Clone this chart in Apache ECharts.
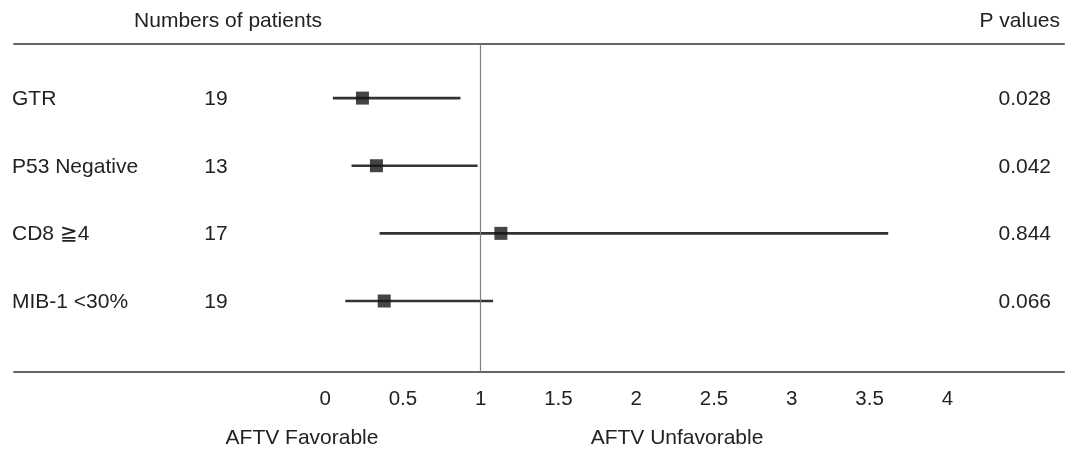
<!DOCTYPE html>
<html><head><meta charset="utf-8">
<script src="https://cdn.jsdelivr.net/npm/echarts@6/dist/echarts.min.js"></script>
<style>html,body{margin:0;padding:0;background:#fff}#c{width:1067px;height:457px}</style>
</head><body><div id="c"></div>
<script>
const categories = ['GTR', 'P53 Negative', 'CD8 \u22674', 'MIB-1 <30%'];
const patients = [19, 13, 17, 19];
const hazard = [0.24, 0.33, 1.13, 0.38];
const lower = [0.05, 0.17, 0.35, 0.13];
const upper = [0.87, 0.98, 3.62, 1.08];
const pValues = ['0.028', '0.042', '0.844', '0.066'];
const tickLabels = ['0', '0.5', '1', '1.5', '2', '2.5', '3', '3.5', '4'];

const FONT = '"Liberation Sans", Arial, sans-serif';
const FS = 21;
const TXT = '#222';
const F = FS + 'px ' + FONT;

const rows = categories.map((c, i) => i + 1);
const whiskerData = categories.map((c, i) => [lower[i], upper[i], rows[i]]);
const pointData = categories.map((c, i) => [hazard[i], rows[i]]);
const textData = categories.map((c, i) => [0, rows[i], i]);

const chart = echarts.init(document.getElementById('c'), null, {renderer: 'canvas'});
chart.setOption({
  animation: false,
  backgroundColor: '#fff',
  grid: {left: 14, right: 0, top: 44, bottom: 85},
  xAxis: [{
    type: 'value', min: -2, max: 4.75, interval: 0.5, position: 'bottom',
    axisLine: {show: true, lineStyle: {color: '#666', width: 2}},
    axisTick: {show: false}, splitLine: {show: false},
    axisLabel: {
      margin: 17, color: TXT, fontFamily: FONT, fontSize: 20.5,
      showMinLabel: true, showMaxLabel: true,
      formatter: v => {
        const s = String(+v.toFixed(2));
        return tickLabels.indexOf(s) >= 0 ? s : '';
      }
    }
  }, {
    type: 'value', min: -2, max: 4.75, interval: 0.5, position: 'top',
    axisLine: {show: true, onZero: false, lineStyle: {color: '#666', width: 2}},
    axisTick: {show: false}, axisLabel: {show: false}, splitLine: {show: false}
  }],
  yAxis: {type: 'value', inverse: true, min: 0.2, max: 5.05, show: false},
  graphic: [
    {type: 'text', x: 228, y: 21, style: {text: 'Numbers of patients', font: F, fill: TXT, textAlign: 'center', textVerticalAlign: 'middle'}},
    {type: 'text', x: 1060, y: 21, style: {text: 'P values', font: F, fill: TXT, textAlign: 'right', textVerticalAlign: 'middle'}},
    {type: 'text', x: 302, y: 438, style: {text: 'AFTV Favorable', font: F, fill: TXT, textAlign: 'center', textVerticalAlign: 'middle'}},
    {type: 'text', x: 677, y: 438, style: {text: 'AFTV Unfavorable', font: F, fill: TXT, textAlign: 'center', textVerticalAlign: 'middle'}}
  ],
  series: [
    {
      type: 'line', data: [], xAxisIndex: 0,
      markLine: {
        silent: true, symbol: 'none', label: {show: false},
        lineStyle: {color: '#808080', width: 1.2, type: 'solid'},
        data: [{xAxis: 1}]
      }
    },
    {
      type: 'custom', xAxisIndex: 0, data: whiskerData,
      renderItem: (params, api) => {
        const a = api.coord([api.value(0), api.value(2)]);
        const b = api.coord([api.value(1), api.value(2)]);
        return {type: 'line', shape: {x1: a[0], y1: a[1], x2: b[0], y2: b[1]},
          style: {stroke: '#333', lineWidth: 2.6}};
      }
    },
    {
      type: 'scatter', xAxisIndex: 0, data: pointData, symbol: 'rect', symbolSize: 13,
      itemStyle: {color: '#161616'}, z: 5
    },
    {
      type: 'custom', xAxisIndex: 0, data: textData,
      renderItem: (params, api) => {
        const i = api.value(2);
        const y = api.coord([0, api.value(1)])[1] + 1;
        return {type: 'group', children: [
          {type: 'text', style: {x: 12, y: y, text: categories[i], font: F, fill: TXT, textAlign: 'left', textVerticalAlign: 'middle'}},
          {type: 'text', style: {x: 216, y: y, text: String(patients[i]), font: F, fill: TXT, textAlign: 'center', textVerticalAlign: 'middle'}},
          {type: 'text', style: {x: 1051, y: y, text: pValues[i], font: F, fill: TXT, textAlign: 'right', textVerticalAlign: 'middle'}}
        ]};
      }
    }
  ]
});
</script>
</body></html>
